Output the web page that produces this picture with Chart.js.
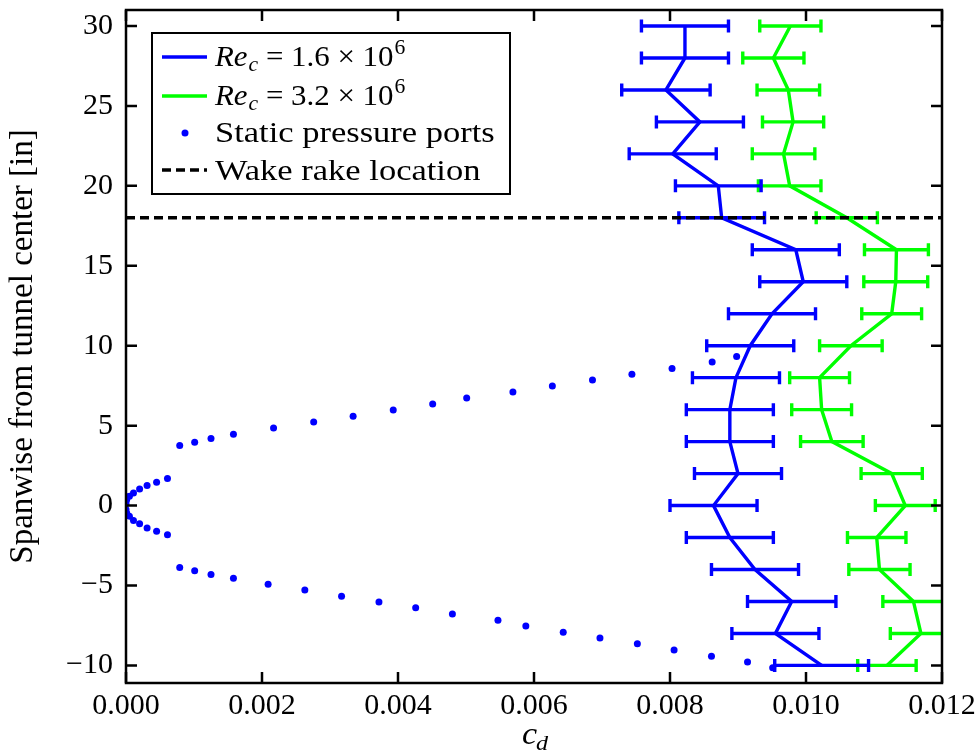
<!DOCTYPE html>
<html>
<head>
<meta charset="utf-8">
<script src="https://cdn.jsdelivr.net/npm/chart.js@4/dist/chart.umd.min.js"></script>
<style>
  body { margin: 0; background: #fff; }
  .preload { position: absolute; left: -999px; top: 0; font-family: 'Liberation Serif'; }
</style>
</head>
<body>
<span class="preload">0.5 <i>Re</i></span>
<canvas id="cdchart" width="979" height="756"></canvas>
<script>
// spanwise stations of the wake rake surveys [in]
const span = [30, 28, 26, 24, 22, 20, 18, 16, 14, 12, 10, 8, 6, 4, 2, 0, -2, -4, -6, -8, -10];

// Re_c = 1.6e6
const cdLow = [0.00822, 0.00822, 0.00794, 0.00844, 0.00804, 0.00871, 0.00876, 0.00985, 0.00996, 0.00950, 0.00918,
  0.00897, 0.00888, 0.00888, 0.00900, 0.00864, 0.00888, 0.00925, 0.00979, 0.00955, 0.01023];
const errLow = [0.00064, 0.00064, 0.00065, 0.00064, 0.00064, 0.00063, 0.00063, 0.00064, 0.00064, 0.00064, 0.00064,
  0.00064, 0.00064, 0.00064, 0.00064, 0.00064, 0.00064, 0.00064, 0.00065, 0.00064, 0.00069];

// Re_c = 3.2e6
const cdHigh = [0.00977, 0.00952, 0.00974, 0.00981, 0.00967, 0.00976, 0.01060, 0.01133, 0.01132, 0.01126, 0.01066,
  0.01020, 0.01023, 0.01038, 0.01126, 0.01146, 0.01104, 0.01108, 0.01158, 0.01169, 0.01119];
const errHigh = [0.00045, 0.00045, 0.00046, 0.00045, 0.00046, 0.00046, 0.00045, 0.00047, 0.00047, 0.00044, 0.00046,
  0.00044, 0.00044, 0.00046, 0.00045, 0.00044, 0.00043, 0.00045, 0.00045, 0.00045, 0.00043];

// static pressure port locations, plotted in (cd, span) space
const portCd = [0.00898, 0.00862, 0.00803, 0.00744, 0.00686, 0.00627, 0.00569, 0.00501, 0.00451, 0.00393, 0.00334,
  0.00276, 0.00217, 0.00158, 0.00125, 0.00101, 0.00079,
  0.00061, 0.00045, 0.00031, 0.00020, 0.00011, 0.00005, 0.00001, 0.0, 0.0, 0.00001, 0.00005, 0.00011, 0.00020,
  0.00031, 0.00045, 0.00061,
  0.00079, 0.00101, 0.00125, 0.00158, 0.00209, 0.00263, 0.00317, 0.00372, 0.00426, 0.00480, 0.00547, 0.00588,
  0.00643, 0.00697, 0.00752, 0.00806, 0.00861, 0.00914, 0.00951];
const portSpan = [9.33, 8.98, 8.58, 8.21, 7.85, 7.48, 7.10, 6.73, 6.35, 5.98, 5.58,
  5.23, 4.85, 4.46, 4.19, 3.96, 3.75,
  1.69, 1.46, 1.25, 1.04, 0.79, 0.58, 0.37, 0.12, -0.25, -0.46, -0.67, -0.94, -1.14,
  -1.40, -1.60, -1.83,
  -3.88, -4.08, -4.31, -4.54, -4.92, -5.29, -5.67, -6.04, -6.40, -6.79, -7.17, -7.54,
  -7.92, -8.29, -8.65, -9.04, -9.42, -9.79, -10.14];

const wakeSpan = 18;
const reLabels = ['1.6', '3.2'];

const SERIF = "'Liberation Serif', 'Times New Roman', serif";
const BLUE = '#0000ff';
const GREEN = '#00ff00';
const LW = 3.4;

const toXY = (xs, ys) => xs.map((v, i) => ({ x: v, y: ys[i] }));

function errorBars(ctx, chart, cds, errs, color) {
  const xs = chart.scales.x, ys = chart.scales.y;
  ctx.strokeStyle = color;
  ctx.lineWidth = LW;
  ctx.beginPath();
  cds.forEach((c, i) => {
    const y = ys.getPixelForValue(span[i]);
    const x0 = xs.getPixelForValue(c - errs[i]);
    const x1 = xs.getPixelForValue(c + errs[i]);
    ctx.moveTo(x0, y); ctx.lineTo(x1, y);
    ctx.moveTo(x0, y - 6.5); ctx.lineTo(x0, y + 6.5);
    ctx.moveTo(x1, y - 6.5); ctx.lineTo(x1, y + 6.5);
  });
  ctx.stroke();
}

// text drawn slightly widened, returns the advance in canvas pixels
function wide(ctx, s, x, y, sx) {
  ctx.save();
  ctx.translate(x, y);
  ctx.scale(sx, 1);
  ctx.fillText(s, 0, 0);
  ctx.restore();
  return ctx.measureText(s).width * sx;
}

function reText(ctx, x, y, val) {
  const sx = 1.03;
  ctx.font = 'italic 30px ' + SERIF;
  x += wide(ctx, 'Re', x, y, sx) + 1;
  ctx.font = 'italic 21px ' + SERIF;
  x += wide(ctx, 'c', x, y + 5, sx);
  ctx.font = '30px ' + SERIF;
  x += wide(ctx, ' = ' + val + ' \u00d7 10', x, y, sx) + 1;
  ctx.font = '21px ' + SERIF;
  wide(ctx, '6', x, y - 12, sx);
}

const decor = {
  id: 'decor',
  beforeDatasetsDraw(chart) {
    const ctx = chart.ctx, a = chart.chartArea;
    ctx.save();
    ctx.beginPath();
    ctx.rect(a.left, a.top, a.right - a.left, a.bottom - a.top);
    ctx.clip();
    errorBars(ctx, chart, cdHigh, errHigh, GREEN);
    errorBars(ctx, chart, cdLow, errLow, BLUE);
    ctx.restore();
  },
  afterDatasetsDraw(chart) {
    const ctx = chart.ctx, a = chart.chartArea;
    const xs = chart.scales.x, ys = chart.scales.y;
    ctx.save();
    // frame and inward ticks on all four sides
    ctx.strokeStyle = '#000';
    ctx.lineWidth = 2.5;
    ctx.strokeRect(a.left, a.top, a.right - a.left, a.bottom - a.top);
    ctx.beginPath();
    xs.ticks.forEach(t => {
      const x = xs.getPixelForValue(t.value);
      ctx.moveTo(x, a.bottom); ctx.lineTo(x, a.bottom - 11);
      ctx.moveTo(x, a.top); ctx.lineTo(x, a.top + 11);
    });
    ys.ticks.forEach(t => {
      const y = ys.getPixelForValue(t.value);
      ctx.moveTo(a.left, y); ctx.lineTo(a.left + 11, y);
      ctx.moveTo(a.right, y); ctx.lineTo(a.right - 11, y);
    });
    ctx.stroke();

    // legend
    ctx.lineWidth = 2;
    ctx.fillStyle = '#fff';
    ctx.fillRect(152, 33, 358, 161);
    ctx.strokeRect(152, 33, 358, 161);
    ctx.lineWidth = LW;
    ctx.strokeStyle = BLUE;
    ctx.beginPath(); ctx.moveTo(162, 57); ctx.lineTo(207, 57); ctx.stroke();
    ctx.strokeStyle = GREEN;
    ctx.beginPath(); ctx.moveTo(162, 96); ctx.lineTo(207, 96); ctx.stroke();
    ctx.fillStyle = BLUE;
    ctx.beginPath(); ctx.arc(185, 133, 3.5, 0, Math.PI * 2); ctx.fill();
    ctx.strokeStyle = '#000';
    ctx.setLineDash([9, 5]);
    ctx.beginPath(); ctx.moveTo(162, 170); ctx.lineTo(207, 170); ctx.stroke();
    ctx.setLineDash([]);
    ctx.fillStyle = '#000';
    ctx.textBaseline = 'alphabetic';
    ctx.textAlign = 'left';
    reText(ctx, 215, 66, reLabels[0]);
    reText(ctx, 215, 105, reLabels[1]);
    ctx.font = '30px ' + SERIF;
    wide(ctx, 'Static pressure ports', 215, 142, 1.15);
    wide(ctx, 'Wake rake location', 215, 180, 1.15);

    // x axis title c_d
    const cx = (a.left + a.right) / 2;
    ctx.font = 'italic 31px ' + SERIF;
    wide(ctx, 'c', cx - 12, 744, 1.1);
    ctx.font = 'italic 22px ' + SERIF;
    wide(ctx, 'd', cx + 2, 750, 1.1);
    ctx.restore();
  }
};

function build() {
  new Chart(document.getElementById('cdchart'), {
    type: 'line',
    data: {
      datasets: [
        {
          label: 'Wake rake location',
          data: [{ x: 0, y: wakeSpan }, { x: 0.012, y: wakeSpan }],
          borderColor: '#000',
          borderWidth: LW,
          borderDash: [9, 5],
          pointRadius: 0,
          order: 0
        },
        {
          label: 'Re_c = 1.6e6',
          data: toXY(cdLow, span),
          borderColor: BLUE,
          borderWidth: LW,
          pointRadius: 0,
          order: 1
        },
        {
          label: 'Re_c = 3.2e6',
          data: toXY(cdHigh, span),
          borderColor: GREEN,
          borderWidth: LW,
          pointRadius: 0,
          order: 2
        },
        {
          label: 'Static pressure ports',
          data: toXY(portCd, portSpan),
          showLine: false,
          pointRadius: 3.5,
          pointBackgroundColor: BLUE,
          pointBorderWidth: 0,
          order: 3
        }
      ]
    },
    options: {
      responsive: false,
      animation: false,
      layout: { padding: { left: 0, right: 37, top: 10, bottom: 0 } },
      plugins: { legend: { display: false }, tooltip: { enabled: false } },
      scales: {
        x: {
          type: 'linear',
          min: 0,
          max: 0.012,
          border: { display: false },
          grid: { drawOnChartArea: false, drawTicks: false, tickLength: 0 },
          ticks: {
            stepSize: 0.002,
            includeBounds: false,
            padding: 5,
            color: '#000',
            font: { family: SERIF, size: 30 },
            maxRotation: 0,
            callback: v => v.toFixed(3)
          },
          afterFit(s) { s.height = 73; s.paddingLeft = 0; s.paddingRight = 0; }
        },
        y: {
          type: 'linear',
          min: -11.1,
          max: 31,
          border: { display: false },
          grid: { drawOnChartArea: false, drawTicks: false, tickLength: 0 },
          ticks: {
            stepSize: 5,
            includeBounds: false,
            padding: 13,
            color: '#000',
            font: { family: SERIF, size: 30 },
            callback: v => (v < 0 ? '\u2212' + Math.abs(v) : String(v))
          },
          title: {
            display: true,
            text: 'Spanwise from tunnel center [in]',
            color: '#000',
            font: { family: SERIF, size: 33 },
            padding: { top: 4, bottom: 0 }
          },
          afterFit(s) { s.width = 126; s.paddingTop = 0; s.paddingBottom = 0; }
        }
      }
    },
    plugins: [decor]
  });
}

// make sure the serif faces are ready before the canvas uses them
Promise.all([
  document.fonts.load('30px "Liberation Serif"'),
  document.fonts.load('italic 30px "Liberation Serif"')
]).then(build, build);
</script>
</body>
</html>
